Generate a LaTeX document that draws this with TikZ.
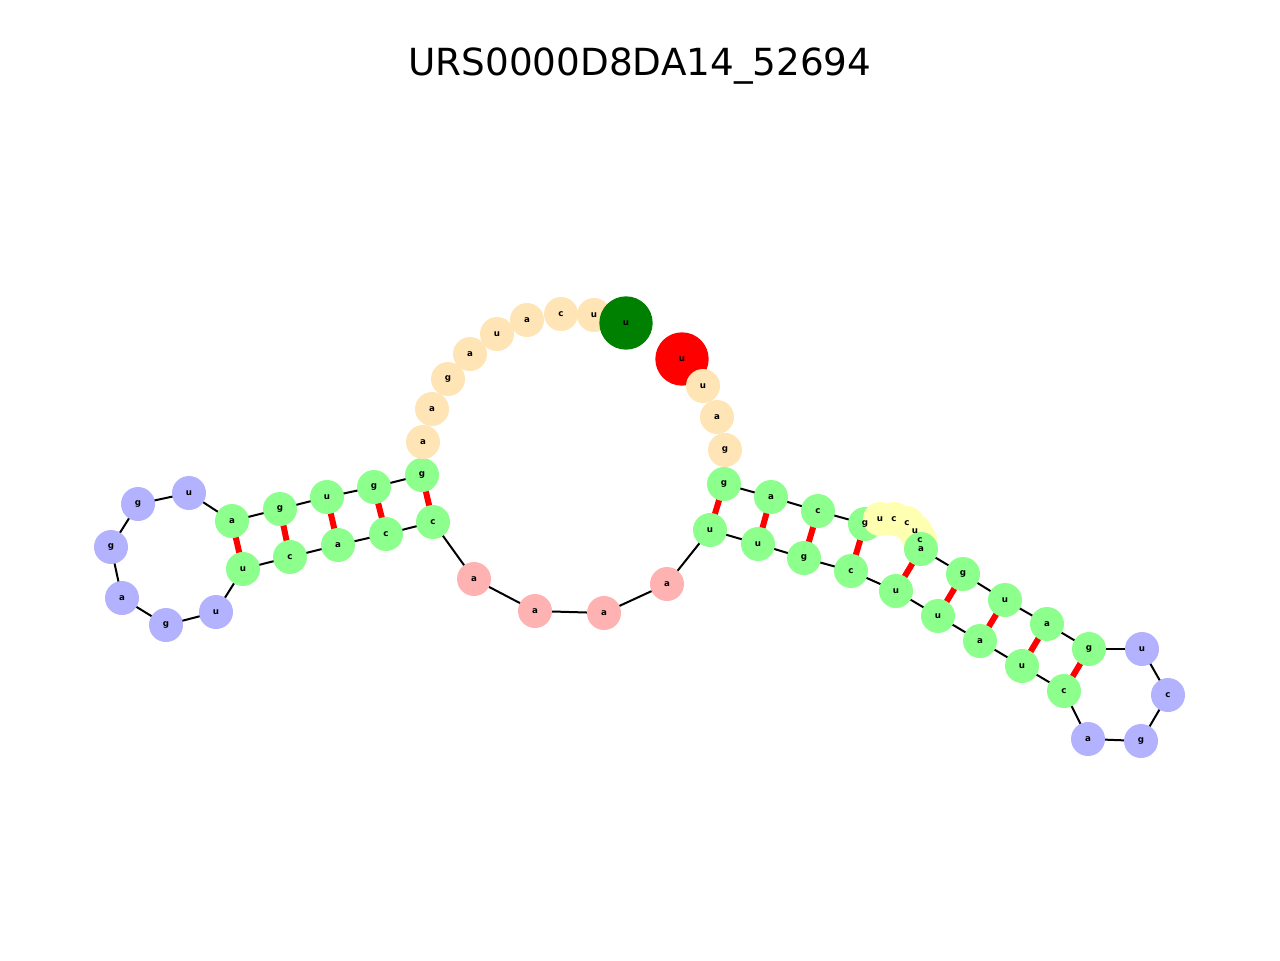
\documentclass[tikz,border=0pt]{standalone}
\usepackage{fontspec}
\setmainfont{DejaVu Sans}
\definecolor{cS}{RGB}{140,255,140}
\definecolor{cH}{RGB}{178,178,255}
\definecolor{cM}{RGB}{255,178,178}
\definecolor{cF}{RGB}{255,228,181}
\definecolor{cI}{RGB}{255,255,178}
\definecolor{cG}{RGB}{0,128,0}
\definecolor{cR}{RGB}{255,0,0}
\begin{document}
\begin{tikzpicture}[x=0.75pt,y=-0.75pt,
  nt/.style={circle,fill=#1,minimum size=25.5pt,inner sep=0pt},
  big/.style={circle,fill=#1,minimum size=40pt,inner sep=0pt},
  lab/.style={font=\fontsize{6.5}{6.5}\selectfont\bfseries},
  bb/.style={line width=1.5pt,black},
  bp/.style={line width=4.5pt,red}]
\useasboundingbox (0,0) rectangle (1280,960);
\node[font=\fontsize{28}{28}\selectfont] (title) at (640,66) {URS0000D8DA14\_52694};
\def\seq{682/359/u/cR, 703/386/u/cF, 717/417/a/cF, 725/450/g/cF, 724/484/g/cS, 771/497/a/cS, 818/511/c/cS, 865/524/g/cS, 880/519/u/cI, 894/519/c/cI, 907/523/c/cI, 915/531/u/cI, 920/540/c/cI, 921/549/a/cS, 963/574/g/cS, 1005/600/u/cS, 1047/624/a/cS, 1089/649/g/cS, 1142/649/u/cH, 1168/695/c/cH, 1141/741/g/cH, 1088/739/a/cH, 1064/691/c/cS, 1022/666/u/cS, 980/641/a/cS, 938/616/u/cS, 896/591/u/cS, 851/571/c/cS, 804/558/g/cS, 758/544/u/cS, 710/530/u/cS, 667/584/a/cM, 604/613/a/cM, 535/611/a/cM, 474/579/a/cM, 433/522/c/cS, 386/534/c/cS, 338/545/a/cS, 290/557/c/cS, 243/569/u/cS, 216/612/u/cH, 166/625/g/cH, 122/598/a/cH, 111/547/g/cH, 138/504/g/cH, 189/493/u/cH, 232/521/a/cS, 280/509/g/cS, 327/497/u/cS, 374/487/g/cS, 422/475/g/cS, 423/442/a/cF, 432/409/a/cF, 448/379/g/cF, 470/354/a/cF, 497/334/u/cF, 527/320/a/cF, 561/314/c/cF, 594/315/u/cF, 626/323/u/cG}
\foreach \x/\y/\l/\c [count=\i] in \seq { \coordinate (p\i) at (\x,\y); }
% backbone (not drawn inside the open 5'/3' tails)
\foreach \i [evaluate=\i as \j using int(\i+1)] in {5,...,50} { \draw[bb] (p\i) -- (p\j); }
% base pairs
\foreach \a/\b in {5/31,6/30,7/29,8/28,14/27,15/26,16/25,17/24,18/23,36/51,37/50,38/49,39/48,40/47} { \draw[bp] (p\a) -- (p\b); }
\foreach \x/\y/\l/\c [count=\i] in \seq {
  \ifnum\i=1 \node[big=\c] (n\i) at (\x,\y) {};
  \else\ifnum\i=60 \node[big=\c] (n\i) at (\x,\y) {};
  \else \node[nt=\c] (n\i) at (\x,\y) {};\fi\fi }
\foreach \x/\y/\l/\c [count=\i] in \seq { \node[lab] (t\i) at (\x,\y) {\l}; }
\end{tikzpicture}
\end{document}
